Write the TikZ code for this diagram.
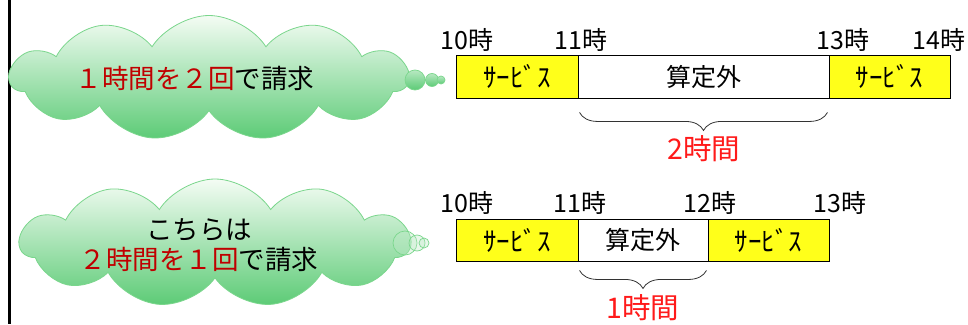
\documentclass[tikz,border=0pt]{standalone}
\usepackage{fontspec}
\newfontfamily\jp{Noto Sans CJK JP}
\usetikzlibrary{shapes.symbols,decorations.pathreplacing,calc}
\definecolor{cloudtop}{HTML}{F4FCF4}
\definecolor{cloudbot}{HTML}{5CCB76}
\definecolor{cloudline}{HTML}{7AD68C}
\definecolor{darkred}{HTML}{C00000}
\definecolor{brightred}{HTML}{FF1A1A}
\definecolor{boxyellow}{HTML}{FFFF1A}
\begin{document}
\begin{tikzpicture}[x=1pt,y=-1pt,
  cloudshape/.style={cloud, cloud puffs=11, cloud puff arc=115, aspect=3.2, draw=cloudline, line width=0.8pt, top color=cloudtop, bottom color=cloudbot, inner sep=0pt},
  bubble/.style={circle, draw=cloudline, line width=0.7pt, top color=cloudtop!60!cloudbot, bottom color=cloudbot, inner sep=0pt},
  bubbleclear/.style={circle, draw=cloudline, line width=0.7pt, fill=cloudbot!40, fill opacity=0.35, inner sep=0pt},
  cloudtext/.style={font=\jp\fontsize{26.5}{30}\selectfont, align=center, inner sep=0pt},
  timelabel/.style={font=\jp\fontsize{25}{27}\selectfont, inner sep=0pt},
  svcbox/.style={draw, line width=0.9pt, fill=boxyellow, font=\jp\fontsize{27}{28}\selectfont, inner sep=0pt},
  extbox/.style={draw, line width=0.9pt, fill=white, font=\jp\fontsize{25}{26}\selectfont, inner sep=0pt},
  bracedraw/.style={decorate, decoration={brace, amplitude=18pt}, line width=0.8pt, draw=black!80},
  hourlabel/.style={font=\jp\fontsize{28.5}{30}\selectfont, text=brightred, inner sep=0pt}
]
\useasboundingbox (0,0) rectangle (968,324);
\fill[white] (0,0) rectangle (968,324);
\draw[line width=2.5pt] (9.5,0) -- (9.5,324);

% top cloud
\node[cloudshape, minimum width=398pt, minimum height=125pt] (c1) at (209,78) {};
\node[bubble, minimum size=20pt] (b1a) at (415,80) {};
\node[bubble, minimum size=13pt] (b1b) at (432,80) {};
\node[bubble, minimum size=8pt] (b1c) at (441,80) {};
\node[cloudtext] (t1) at (195,78) {\textcolor{darkred}{１時間を２回}で請求};

% bottom cloud
\node[cloudshape, minimum width=390pt, minimum height=128pt] (c2) at (215,243) {};
\node[bubbleclear, minimum size=24pt] (b2a) at (405,243) {};
\node[bubbleclear, minimum size=16pt] (b2b) at (417,243) {};
\node[bubbleclear, minimum size=10pt] (b2c) at (424,243) {};
\node[cloudtext] (t2) at (199,245) {こちらは\\\textcolor{darkred}{２時間を１回}で請求};

% top timeline
\node[svcbox, minimum width=122pt, minimum height=43pt] (u1) at (517,76.5) {ｻｰﾋﾞｽ};
\node[extbox, minimum width=251pt, minimum height=43pt] (u2) at (703.5,76.5) {算定外};
\node[svcbox, minimum width=121pt, minimum height=43pt] (u3) at (889.5,76.5) {ｻｰﾋﾞｽ};
\node[timelabel] (ul1) at (467,40) {10時};
\node[timelabel] (ul2) at (581,40) {11時};
\node[timelabel] (ul3) at (843,40) {13時};
\node[timelabel] (ul4) at (939,40) {14時};
\draw[bracedraw] ($(u2.south east)+(-2,14)$) -- ($(u2.south west)+(2,14)$);
\node[hourlabel] (uh) at (704,149) {2時間};

% bottom timeline
\node[svcbox, minimum width=122pt, minimum height=42pt] (d1) at (517,240) {ｻｰﾋﾞｽ};
\node[extbox, minimum width=130pt, minimum height=42pt] (d2) at (643,240) {算定外};
\node[svcbox, minimum width=121pt, minimum height=42pt] (d3) at (768.5,240) {ｻｰﾋﾞｽ};
\node[timelabel] (dl1) at (467,203) {10時};
\node[timelabel] (dl2) at (580,203) {11時};
\node[timelabel] (dl3) at (710,203) {12時};
\node[timelabel] (dl4) at (840,203) {13時};
\draw[bracedraw] ($(d2.south east)+(-2,9)$) -- ($(d2.south west)+(2,9)$);
\node[hourlabel] (dh) at (643,308) {1時間};
\end{tikzpicture}
\end{document}
